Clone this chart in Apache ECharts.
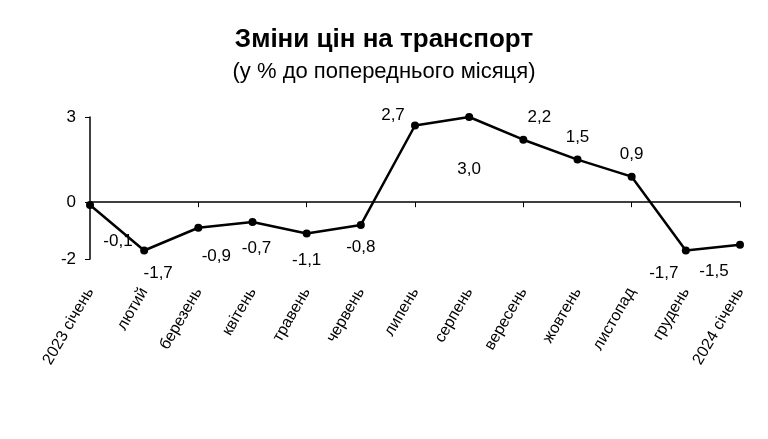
<!DOCTYPE html>
<html><head><meta charset="utf-8">
<script src="https://cdn.jsdelivr.net/npm/echarts@6/dist/echarts.min.js"></script>
<style>html,body{margin:0;background:#fff}#c{width:768px;height:439px}</style>
</head><body><div id="c"></div>
<script>
const months = ['2023 січень','лютий','березень','квітень','травень','червень','липень','серпень','вересень','жовтень','листопад','грудень','2024 січень'];
const values = [-0.1, -1.7, -0.9, -0.7, -1.1, -0.8, 2.7, 3.0, 2.2, 1.5, 0.9, -1.7, -1.5];
const yTicks = [-2, 0, 3];
// where each value label sits relative to its point
const labelPos = ['bottom','bottom','bottom','bottom','bottom','bottom','top','bottom','top','top','top','bottom','bottom'];
const labelOff = [[28,14],[14,0],[18,6],[4,4],[0,4],[0,0],[-22,12],[0,30],[16,0],[0,0],[0,0],[-22,0],[-26,4]];

const chart = echarts.init(document.getElementById('c'));
const font = 'Liberation Sans, Arial, sans-serif';
chart.setOption({
  animation: false,
  textStyle: {fontFamily: font},
  title: {
    text: 'Зміни цін на транспорт',
    subtext: '(у % до попереднього місяця)',
    left: 'center', top: 22, itemGap: 8,
    textStyle: {fontSize: 26, fontWeight: 'bold', color: '#000', fontFamily: font},
    subtextStyle: {fontSize: 22, color: '#000', fontFamily: font}
  },
  grid: {left: 90, right: 28, top: 117, bottom: 180},
  xAxis: [{
    type: 'category', data: months, boundaryGap: false,
    axisLine: {onZero: true, lineStyle: {color: '#000', width: 1.5}},
    axisTick: {show: true, inside: false, length: 5, lineStyle: {color: '#000'}},
    axisLabel: {show: false}
  }, {
    type: 'category', data: months, boundaryGap: false, position: 'bottom',
    axisLine: {show: false}, axisTick: {show: false},
    axisLabel: {rotate: 60, margin: 30, fontSize: 16, color: '#000', interval: 0}
  }],
  yAxis: {
    type: 'value', min: -2, max: 3, interval: 1,
    splitLine: {show: false},
    axisLine: {show: true, lineStyle: {color: '#000', width: 1.5}},
    axisTick: {show: true, length: 5, customValues: yTicks},
    axisLabel: {fontSize: 17, color: '#000', margin: 14, customValues: yTicks}
  },
  series: [{
    type: 'line', data: values.map((v, i) => ({
      value: v,
      label: {position: labelPos[i], offset: labelOff[i]}
    })),
    symbol: 'circle', symbolSize: 8,
    lineStyle: {color: '#000', width: 2.5},
    itemStyle: {color: '#000'},
    label: {show: true, fontSize: 17, color: '#000', distance: 10,
      formatter: p => p.value.toFixed(1).replace('.', ',')}
  }]
});
</script></body></html>
